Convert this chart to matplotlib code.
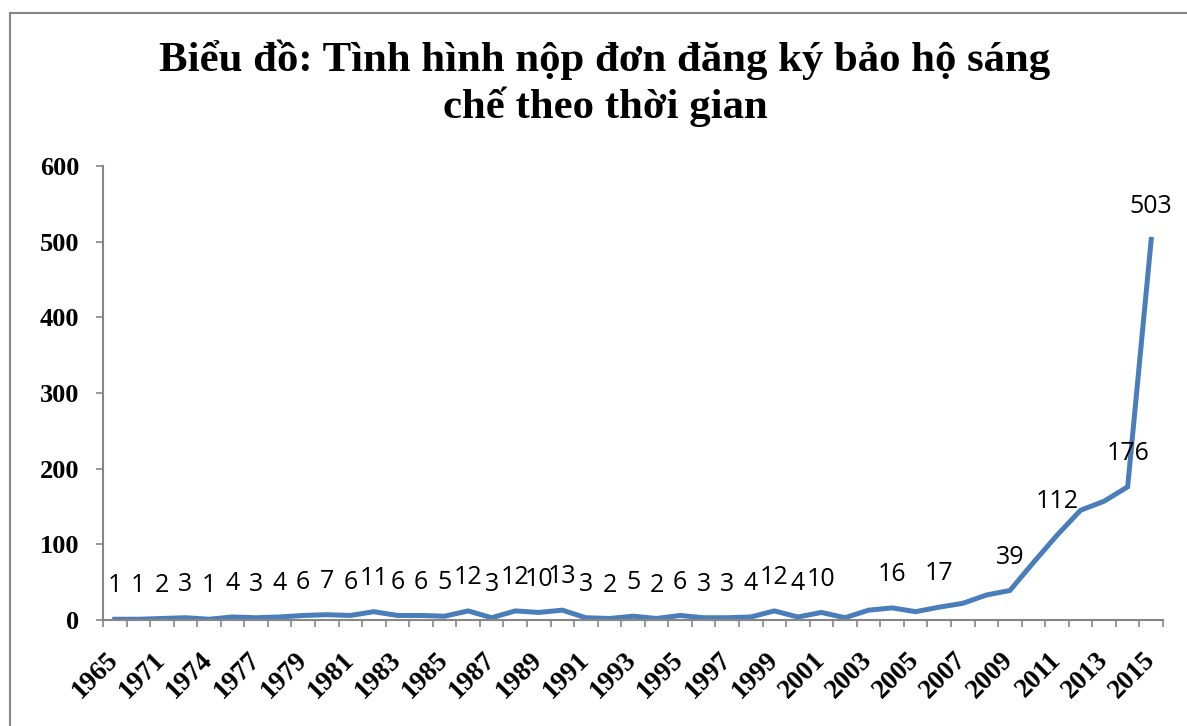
import numpy as np
import matplotlib.pyplot as plt
from matplotlib.patches import Rectangle

years = [1965, 1968, 1971, 1972, 1974, 1975] + list(range(1977, 2016))
counts = [1, 1, 2, 3, 1, 4, 3, 4, 6, 7, 6, 11, 6, 6, 5, 12, 3, 12, 10, 13,
          3, 2, 5, 2, 6, 3, 3, 4, 12, 4, 10, 3, 13, 16, 11, 17, 22, 33, 39,
          76, 112, 145, 157, 176, 503]
# nam co nhan so lieu tren hinh
labelled = [y for y in years if y <= 2001] + [2004, 2006, 2009, 2011, 2014, 2015]

title = "Biểu đồ: Tình hình nộp đơn đăng ký bảo hộ sáng\nchế theo thời gian"

gray = '#868686'
blue = '#4a7ebb'

fig = plt.figure(figsize=(11.87, 7.26), dpi=100)
fig.patches.append(Rectangle((10 / 1187, -0.1), 1.2, 1 - 13 / 726 + 0.1,
                             transform=fig.transFigure, fill=False,
                             edgecolor=gray, linewidth=1.5))

ax = fig.add_axes([103 / 1187, 1 - 620 / 726, (1163 - 103) / 1187, (620 - 166) / 726])

x = np.arange(len(years))
ax.plot(x, counts, color=blue, linewidth=3.6, solid_joinstyle='miter')

for i, (yr, v) in enumerate(zip(years, counts)):
    if yr in labelled:
        ax.annotate(str(v), (i, v), xytext=(0, 24), textcoords='offset points',
                    ha='center', va='center', fontsize=18, family='Open Sans')

ax.set_xlim(-0.5, len(years) - 0.5)
ax.set_ylim(0, 600)
ax.set_yticks(range(0, 601, 100))

ax.set_xticks(x[::2])
ax.set_xticklabels([str(y) for y in years[::2]], rotation=45, ha='right',
                   va='center', rotation_mode='anchor')
ax.set_xticks(np.arange(-0.5, len(years)), minor=True)
ax.tick_params(axis='x', which='major', length=0, pad=26)
ax.tick_params(axis='x', which='minor', length=5, color=gray, width=1.2)
ax.tick_params(axis='y', length=5, color=gray, width=1.2, pad=12)

for lab in ax.get_yticklabels():
    lab.set_family('Liberation Serif')
    lab.set_fontweight('bold')
    lab.set_fontsize(19)
for lab in ax.get_xticklabels():
    lab.set_family('Liberation Serif')
    lab.set_fontweight('bold')
    lab.set_fontsize(19.5)

for s in ['top', 'right']:
    ax.spines[s].set_visible(False)
for s in ['left', 'bottom']:
    ax.spines[s].set_color(gray)
    ax.spines[s].set_linewidth(1.5)

fig.text(605 / 1187, 1 - 40 / 726, title, ha='center', va='top',
         family='Liberation Serif', fontweight='bold', fontsize=30.8,
         linespacing=1.2)

fig.savefig('out.png', dpi=100)
